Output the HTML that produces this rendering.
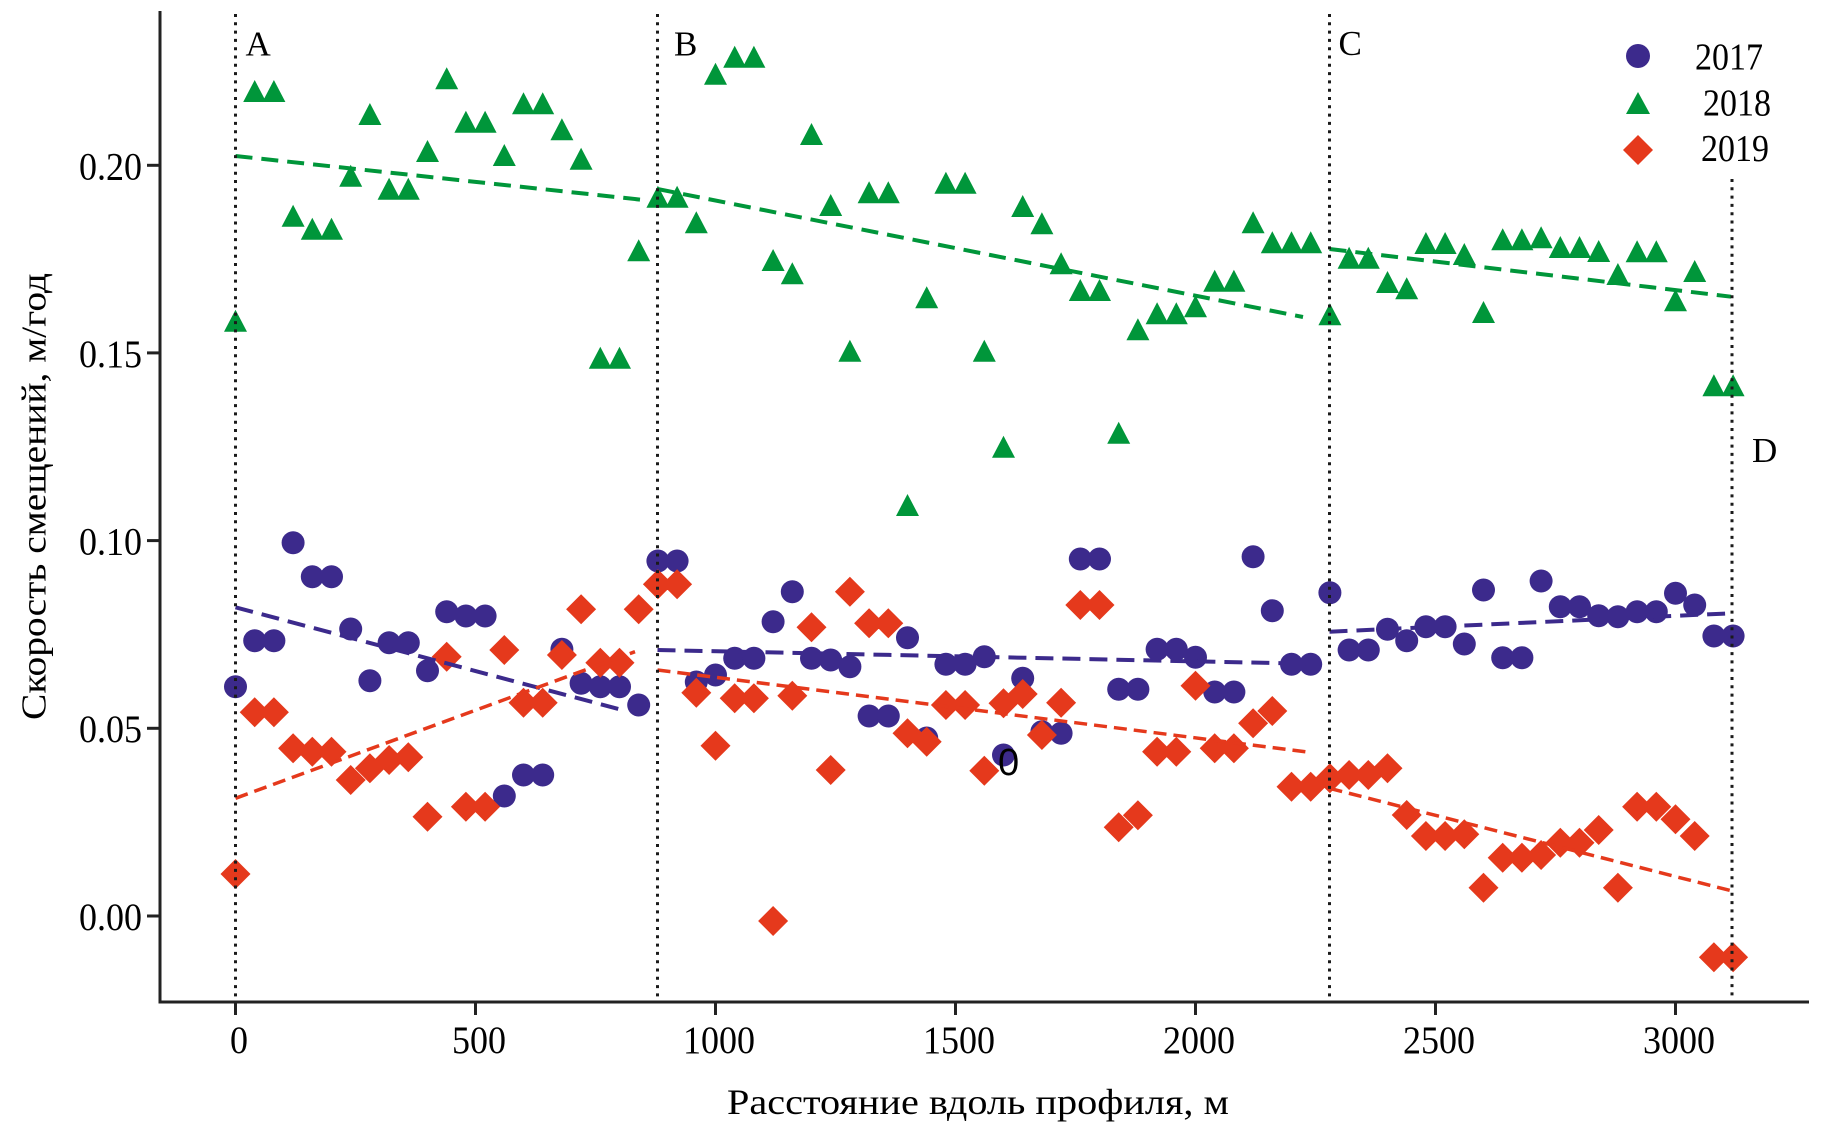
<!DOCTYPE html>
<html><head><meta charset="utf-8"><style>
html,body{margin:0;padding:0;background:#fff;}
svg{display:block;}
text{font-family:"Liberation Serif","DejaVu Serif",serif;fill:#000;}
</style></head><body>
<svg width="1825" height="1133" viewBox="0 0 1825 1133" xmlns="http://www.w3.org/2000/svg">
<rect width="1825" height="1133" fill="#fff"/>
<!-- blue circles 2017 -->
<g fill="#3c2a8c">
<circle cx="235.5" cy="686.7" r="11.5"/><circle cx="254.7" cy="640.7" r="11.5"/><circle cx="273.9" cy="640.7" r="11.5"/><circle cx="293.1" cy="542.7" r="11.5"/><circle cx="312.3" cy="576.7" r="11.5"/><circle cx="331.5" cy="576.7" r="11.5"/><circle cx="350.7" cy="629" r="11.5"/><circle cx="369.9" cy="680.7" r="11.5"/><circle cx="389.1" cy="642.7" r="11.5"/><circle cx="408.3" cy="642.7" r="11.5"/><circle cx="427.5" cy="670.7" r="11.5"/><circle cx="446.7" cy="611.7" r="11.5"/><circle cx="465.9" cy="616" r="11.5"/><circle cx="485.1" cy="616" r="11.5"/><circle cx="504.3" cy="796" r="11.5"/><circle cx="523.5" cy="775" r="11.5"/><circle cx="542.7" cy="775" r="11.5"/><circle cx="561.9" cy="649.3" r="11.5"/><circle cx="581.1" cy="683.3" r="11.5"/><circle cx="600.3" cy="686.7" r="11.5"/><circle cx="619.5" cy="686.7" r="11.5"/><circle cx="638.7" cy="705" r="11.5"/><circle cx="657.9" cy="561" r="11.5"/><circle cx="677.1" cy="561" r="11.5"/><circle cx="696.3" cy="682" r="11.5"/><circle cx="715.5" cy="675" r="11.5"/><circle cx="734.7" cy="658.3" r="11.5"/><circle cx="753.9" cy="658.3" r="11.5"/><circle cx="773.1" cy="621.7" r="11.5"/><circle cx="792.3" cy="591.7" r="11.5"/><circle cx="811.5" cy="658.3" r="11.5"/><circle cx="830.7" cy="660" r="11.5"/><circle cx="849.9" cy="666.7" r="11.5"/><circle cx="869.1" cy="716" r="11.5"/><circle cx="888.3" cy="716" r="11.5"/><circle cx="907.5" cy="637.7" r="11.5"/><circle cx="926.7" cy="738" r="11.5"/><circle cx="945.9" cy="664.3" r="11.5"/><circle cx="965.1" cy="664.3" r="11.5"/><circle cx="984.3" cy="656.7" r="11.5"/><circle cx="1003.5" cy="755" r="11.5"/><circle cx="1022.7" cy="678.3" r="11.5"/><circle cx="1041.9" cy="731.7" r="11.5"/><circle cx="1061.1" cy="733.3" r="11.5"/><circle cx="1080.3" cy="559" r="11.5"/><circle cx="1099.5" cy="559" r="11.5"/><circle cx="1118.7" cy="689.3" r="11.5"/><circle cx="1137.9" cy="689.3" r="11.5"/><circle cx="1157.1" cy="649.3" r="11.5"/><circle cx="1176.3" cy="649.3" r="11.5"/><circle cx="1195.5" cy="657.3" r="11.5"/><circle cx="1214.7" cy="692" r="11.5"/><circle cx="1233.9" cy="692" r="11.5"/><circle cx="1253.1" cy="556.7" r="11.5"/><circle cx="1272.3" cy="610.7" r="11.5"/><circle cx="1291.5" cy="664.3" r="11.5"/><circle cx="1310.7" cy="664.3" r="11.5"/><circle cx="1329.9" cy="592.7" r="11.5"/><circle cx="1349.1" cy="650" r="11.5"/><circle cx="1368.3" cy="650" r="11.5"/><circle cx="1387.5" cy="629.3" r="11.5"/><circle cx="1406.7" cy="640.7" r="11.5"/><circle cx="1425.9" cy="626.7" r="11.5"/><circle cx="1445.1" cy="626.7" r="11.5"/><circle cx="1464.3" cy="644" r="11.5"/><circle cx="1483.5" cy="590" r="11.5"/><circle cx="1502.7" cy="657.7" r="11.5"/><circle cx="1521.9" cy="657.7" r="11.5"/><circle cx="1541.1" cy="581" r="11.5"/><circle cx="1560.3" cy="606.7" r="11.5"/><circle cx="1579.5" cy="606.7" r="11.5"/><circle cx="1598.7" cy="615.7" r="11.5"/><circle cx="1617.9" cy="616.7" r="11.5"/><circle cx="1637.1" cy="611.7" r="11.5"/><circle cx="1656.3" cy="611.7" r="11.5"/><circle cx="1675.5" cy="593.3" r="11.5"/><circle cx="1694.7" cy="605" r="11.5"/><circle cx="1713.9" cy="636" r="11.5"/><circle cx="1733.1" cy="636" r="11.5"/>
</g>
<!-- green triangles 2018 -->
<path fill="#00963a" d="M235.5 309.7l11.5 22h-23zM254.7 80l11.5 22h-23zM273.9 80l11.5 22h-23zM293.1 204.7l11.5 22h-23zM312.3 217.7l11.5 22h-23zM331.5 217.7l11.5 22h-23zM350.7 164.7l11.5 22h-23zM369.9 103l11.5 22h-23zM389.1 177.7l11.5 22h-23zM408.3 177.7l11.5 22h-23zM427.5 140l11.5 22h-23zM446.7 67.3l11.5 22h-23zM465.9 110.7l11.5 22h-23zM485.1 110.7l11.5 22h-23zM504.3 144l11.5 22h-23zM523.5 92.3l11.5 22h-23zM542.7 92.3l11.5 22h-23zM561.9 118.3l11.5 22h-23zM581.1 147.7l11.5 22h-23zM600.3 346.7l11.5 22h-23zM619.5 346.7l11.5 22h-23zM638.7 239.3l11.5 22h-23zM657.9 185.7l11.5 22h-23zM677.1 185.7l11.5 22h-23zM696.3 211.3l11.5 22h-23zM715.5 62.7l11.5 22h-23zM734.7 45.7l11.5 22h-23zM753.9 45.7l11.5 22h-23zM773.1 249l11.5 22h-23zM792.3 262.3l11.5 22h-23zM811.5 123l11.5 22h-23zM830.7 194l11.5 22h-23zM849.9 339.7l11.5 22h-23zM869.1 181.3l11.5 22h-23zM888.3 181.3l11.5 22h-23zM907.5 494l11.5 22h-23zM926.7 286.3l11.5 22h-23zM945.9 171.7l11.5 22h-23zM965.1 171.7l11.5 22h-23zM984.3 339.7l11.5 22h-23zM1003.5 435.7l11.5 22h-23zM1022.7 195l11.5 22h-23zM1041.9 212.3l11.5 22h-23zM1061.1 252.3l11.5 22h-23zM1080.3 279l11.5 22h-23zM1099.5 279l11.5 22h-23zM1118.7 421.7l11.5 22h-23zM1137.9 318.3l11.5 22h-23zM1157.1 302.3l11.5 22h-23zM1176.3 302.3l11.5 22h-23zM1195.5 295.3l11.5 22h-23zM1214.7 269.7l11.5 22h-23zM1233.9 269.7l11.5 22h-23zM1253.1 211.3l11.5 22h-23zM1272.3 231.3l11.5 22h-23zM1291.5 231.3l11.5 22h-23zM1310.7 231.3l11.5 22h-23zM1329.9 303.3l11.5 22h-23zM1349.1 246.7l11.5 22h-23zM1368.3 246.7l11.5 22h-23zM1387.5 271l11.5 22h-23zM1406.7 277.3l11.5 22h-23zM1425.9 232l11.5 22h-23zM1445.1 232l11.5 22h-23zM1464.3 243l11.5 22h-23zM1483.5 301l11.5 22h-23zM1502.7 228.3l11.5 22h-23zM1521.9 228.3l11.5 22h-23zM1541.1 226.3l11.5 22h-23zM1560.3 236l11.5 22h-23zM1579.5 236l11.5 22h-23zM1598.7 240l11.5 22h-23zM1617.9 263l11.5 22h-23zM1637.1 240.3l11.5 22h-23zM1656.3 240.3l11.5 22h-23zM1675.5 289.3l11.5 22h-23zM1694.7 260l11.5 22h-23zM1713.9 374.3l11.5 22h-23zM1733.1 374.3l11.5 22h-23z"/>
<!-- red diamonds 2019 -->
<path fill="#e5391c" d="M235.5 859l15 15-15 15-15-15zM254.7 697.3l15 15-15 15-15-15zM273.9 697.3l15 15-15 15-15-15zM293.1 733.3l15 15-15 15-15-15zM312.3 736.7l15 15-15 15-15-15zM331.5 736.7l15 15-15 15-15-15zM350.7 765l15 15-15 15-15-15zM369.9 753.3l15 15-15 15-15-15zM389.1 745l15 15-15 15-15-15zM408.3 742.3l15 15-15 15-15-15zM427.5 801.7l15 15-15 15-15-15zM446.7 641.7l15 15-15 15-15-15zM465.9 791.7l15 15-15 15-15-15zM485.1 791.7l15 15-15 15-15-15zM504.3 635l15 15-15 15-15-15zM523.5 687.7l15 15-15 15-15-15zM542.7 687.7l15 15-15 15-15-15zM561.9 640l15 15-15 15-15-15zM581.1 594.3l15 15-15 15-15-15zM600.3 647.7l15 15-15 15-15-15zM619.5 647.7l15 15-15 15-15-15zM638.7 594.3l15 15-15 15-15-15zM657.9 569.3l15 15-15 15-15-15zM677.1 569.3l15 15-15 15-15-15zM696.3 677.7l15 15-15 15-15-15zM715.5 730.7l15 15-15 15-15-15zM734.7 683.3l15 15-15 15-15-15zM753.9 683.3l15 15-15 15-15-15zM773.1 906l15 15-15 15-15-15zM792.3 680.7l15 15-15 15-15-15zM811.5 612.3l15 15-15 15-15-15zM830.7 755l15 15-15 15-15-15zM849.9 576.7l15 15-15 15-15-15zM869.1 608.3l15 15-15 15-15-15zM888.3 608.3l15 15-15 15-15-15zM907.5 718.3l15 15-15 15-15-15zM926.7 726.7l15 15-15 15-15-15zM945.9 690l15 15-15 15-15-15zM965.1 690l15 15-15 15-15-15zM984.3 755.7l15 15-15 15-15-15zM1003.5 688.3l15 15-15 15-15-15zM1022.7 679l15 15-15 15-15-15zM1041.9 720l15 15-15 15-15-15zM1061.1 687.7l15 15-15 15-15-15zM1080.3 590l15 15-15 15-15-15zM1099.5 590l15 15-15 15-15-15zM1118.7 812.3l15 15-15 15-15-15zM1137.9 800.3l15 15-15 15-15-15zM1157.1 736.7l15 15-15 15-15-15zM1176.3 736.7l15 15-15 15-15-15zM1195.5 670.7l15 15-15 15-15-15zM1214.7 733.3l15 15-15 15-15-15zM1233.9 733.3l15 15-15 15-15-15zM1253.1 708.3l15 15-15 15-15-15zM1272.3 696l15 15-15 15-15-15zM1291.5 771.7l15 15-15 15-15-15zM1310.7 771.7l15 15-15 15-15-15zM1329.9 763.3l15 15-15 15-15-15zM1349.1 760l15 15-15 15-15-15zM1368.3 760l15 15-15 15-15-15zM1387.5 753.3l15 15-15 15-15-15zM1406.7 800l15 15-15 15-15-15zM1425.9 821l15 15-15 15-15-15zM1445.1 821l15 15-15 15-15-15zM1464.3 819.3l15 15-15 15-15-15zM1483.5 872.7l15 15-15 15-15-15zM1502.7 842.7l15 15-15 15-15-15zM1521.9 842.7l15 15-15 15-15-15zM1541.1 840l15 15-15 15-15-15zM1560.3 827.7l15 15-15 15-15-15zM1579.5 827.7l15 15-15 15-15-15zM1598.7 815l15 15-15 15-15-15zM1617.9 872.7l15 15-15 15-15-15zM1637.1 791.7l15 15-15 15-15-15zM1656.3 791.7l15 15-15 15-15-15zM1675.5 804.3l15 15-15 15-15-15zM1694.7 821l15 15-15 15-15-15zM1713.9 942.3l15 15-15 15-15-15zM1733.1 942.3l15 15-15 15-15-15z"/>
<!-- trend lines -->
<g fill="none" stroke-linecap="butt">
<g stroke="#00963a" stroke-width="4" stroke-dasharray="17 9">
<line x1="235.5" y1="156" x2="640" y2="199.6"/>
<line x1="657.5" y1="189" x2="1303" y2="317"/>
<line x1="1329.5" y1="249" x2="1731" y2="296.7"/>
</g>
<g stroke="#3c2a8c" stroke-width="4" stroke-dasharray="18 9">
<line x1="235.5" y1="607.3" x2="625" y2="710.7"/>
<line x1="657.5" y1="650" x2="1320" y2="664"/>
<line x1="1329.5" y1="631.7" x2="1731" y2="613.3"/>
</g>
<g stroke="#e5391c" stroke-width="3.5" stroke-dasharray="13 7">
<line x1="235.5" y1="798.3" x2="635" y2="651.7"/>
<line x1="657.5" y1="670" x2="1310" y2="752.3"/>
<line x1="1329.5" y1="788.3" x2="1731" y2="890.7"/>
</g>
</g>
<!-- dotted verticals -->
<g stroke="#1a1a1a" stroke-width="3" stroke-dasharray="3 5.3">
<line x1="235.5" y1="14" x2="235.5" y2="1001"/>
<line x1="657.5" y1="14" x2="657.5" y2="1001"/>
<line x1="1329.5" y1="14" x2="1329.5" y2="1001"/>
<line x1="1732" y1="179" x2="1732" y2="1001"/>
</g>
<!-- axes -->
<g stroke="#222" stroke-width="3" fill="none">
<line x1="160" y1="11" x2="160" y2="1003.5"/>
<line x1="158.5" y1="1002" x2="1809" y2="1002"/>
<line x1="147" y1="165.3" x2="160" y2="165.3"/>
<line x1="147" y1="352.9" x2="160" y2="352.9"/>
<line x1="147" y1="540.6" x2="160" y2="540.6"/>
<line x1="147" y1="728.3" x2="160" y2="728.3"/>
<line x1="147" y1="916" x2="160" y2="916"/>
<line x1="235.5" y1="1002" x2="235.5" y2="1015"/>
<line x1="475.5" y1="1002" x2="475.5" y2="1015"/>
<line x1="715.5" y1="1002" x2="715.5" y2="1015"/>
<line x1="955.5" y1="1002" x2="955.5" y2="1015"/>
<line x1="1195.5" y1="1002" x2="1195.5" y2="1015"/>
<line x1="1435.5" y1="1002" x2="1435.5" y2="1015"/>
<line x1="1675.5" y1="1002" x2="1675.5" y2="1015"/>
</g>
<!-- y tick labels -->
<g font-size="36" text-anchor="end">
<text transform="translate(142,179.5) scale(1,1.1)">0.20</text>
<text transform="translate(142,367) scale(1,1.1)">0.15</text>
<text transform="translate(142,554.5) scale(1,1.1)">0.10</text>
<text transform="translate(142,742) scale(1,1.1)">0.05</text>
<text transform="translate(142,930) scale(1,1.1)">0.00</text>
</g>
<!-- x tick labels -->
<g font-size="36" text-anchor="middle">
<text transform="translate(239,1053) scale(1,1.08)">0</text>
<text transform="translate(479,1053) scale(1,1.08)">500</text>
<text transform="translate(719,1053) scale(1,1.08)">1000</text>
<text transform="translate(959,1053) scale(1,1.08)">1500</text>
<text transform="translate(1199,1053) scale(1,1.08)">2000</text>
<text transform="translate(1439,1053) scale(1,1.08)">2500</text>
<text transform="translate(1679,1053) scale(1,1.08)">3000</text>
</g>
<!-- section letters -->
<g font-size="35">
<text x="245.5" y="55.5">A</text>
<text x="674" y="55.5">B</text>
<text x="1338.5" y="55">C</text>
<text x="1752" y="462">D</text>
</g>
<text x="998" y="775" font-size="38" style="font-family:'Liberation Sans','DejaVu Sans',sans-serif">0</text>
<!-- legend -->
<circle cx="1638" cy="56" r="12" fill="#3c2a8c"/>
<path fill="#00963a" d="M1638 92l12 22h-24z"/>
<path fill="#e5391c" d="M1638 135l15 15-15 15-15-15z"/>
<g font-size="34">
<text transform="translate(1695,69.5) scale(1,1.13)">2017</text>
<text transform="translate(1703,115.5) scale(1,1.13)">2018</text>
<text transform="translate(1701,161) scale(1,1.13)">2019</text>
</g>
<!-- axis titles -->
<text x="727" y="1114" font-size="36" textLength="502" lengthAdjust="spacingAndGlyphs">Расстояние вдоль профиля, м</text>
<text transform="translate(45.5,720) rotate(-90)" font-size="35" textLength="447" lengthAdjust="spacingAndGlyphs">Скорость смещений, м/год</text>
</svg>
</body></html>
